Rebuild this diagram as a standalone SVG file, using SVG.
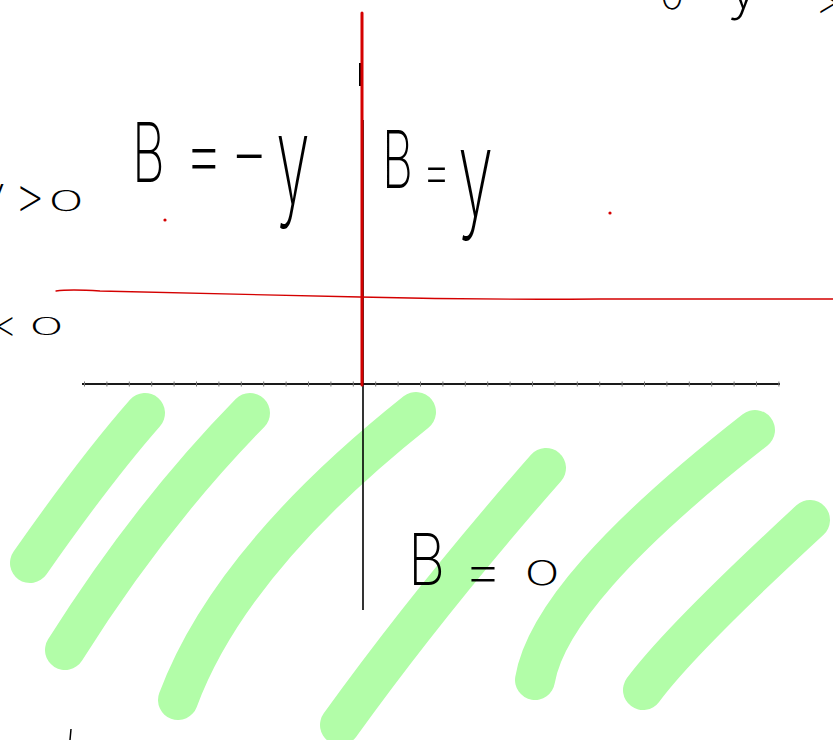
<svg xmlns="http://www.w3.org/2000/svg" width="833" height="740" viewBox="0 0 833 740">
<style>
.hand{font-family:Inter,"DejaVu Sans","Liberation Sans",sans-serif;font-weight:200;fill:#000}
.hl{fill:none;stroke:#b2fda8;stroke-width:40;stroke-linecap:round;stroke-linejoin:round}
.red{fill:none;stroke:#d40000;stroke-linecap:round}
</style>
<rect width="833" height="740" fill="#fff"/>
<g id="highlight">
<path class="hl" d="M145,413 Q95,470 30,563"/>
<path class="hl" d="M250,413 Q150,515 65,650"/>
<path class="hl" d="M416,412 Q230,560 178,700"/>
<path class="hl" d="M546,468 Q430,600 340,725"/>
<path class="hl" d="M755,430 Q550,590 535,680"/>
<path class="hl" d="M810,520 Q680,640 643,690"/>
</g>
<g id="connectors">
<line x1="82" y1="384" x2="780" y2="384" stroke="#1a1a1a" stroke-width="2"/>
<line x1="84" y1="384" x2="780" y2="384" stroke="#777" stroke-width="5" stroke-dasharray="1 21.4"/>
<line x1="363" y1="120" x2="363" y2="610" stroke="#000" stroke-width="1.6"/>
<line x1="360" y1="63" x2="360" y2="86" stroke="#000" stroke-width="2"/>
<path class="red" stroke-width="1.3" d="M56,291 Q70,289 100,291 L360,297 Q480,300 600,299 L833,299"/>
<line class="red" x1="362" y1="13" x2="362" y2="385" stroke-width="3"/>
<circle cx="165" cy="220" r="1.6" fill="#d40000"/>
<circle cx="610" cy="213" r="1.6" fill="#d40000"/>
<line x1="71" y1="729" x2="70" y2="740" stroke="#000" stroke-width="1.5"/>
</g>
<g id="label-top">
<text class="hand" font-size="40" x="660" y="9">0</text>
<text class="hand" font-size="60" x="727" y="8">y</text>
<text class="hand" font-size="40" x="815" y="14">&gt;</text>
</g>
<g id="label-y-pos">
<text class="hand" font-size="48" x="-21" y="210">y</text>
<text class="hand" font-size="48" x="14" y="212">&gt;</text>
<text class="hand" font-size="40" transform="translate(48,211) scale(1.5,0.7)">0</text>
</g>
<g id="label-y-neg">
<text class="hand" font-size="36" x="-6" y="337">&lt;</text>
<text class="hand" font-size="40" transform="translate(29,335) scale(1.45,0.6)">0</text>
</g>
<g id="label-b-neg-y">
<text class="hand" font-size="82" transform="translate(132,182) scale(0.62,1)">B</text>
<text class="hand" font-size="82" transform="translate(184,182) scale(0.75,1)">=</text>
<text class="hand" font-size="82" transform="translate(230,182) scale(1.05,1)">-</text>
<text class="hand" font-size="82" transform="translate(276,203) scale(0.75,1.5)">y</text>
</g>
<g id="label-b-y">
<text class="hand" font-size="80" transform="translate(382,188) scale(0.6,1)">B</text>
<text class="hand" font-size="60" transform="translate(422,192) scale(0.75,1)">=</text>
<text class="hand" font-size="80" transform="translate(458,216) scale(0.8,1.5)">y</text>
</g>
<g id="label-b-zero">
<text class="hand" font-size="72" transform="translate(408,585) scale(0.8,1)">B</text>
<text class="hand" font-size="62" transform="translate(463,592)">=</text>
<text class="hand" font-size="40" transform="translate(524,585) scale(1.5,0.85)">0</text>
</g>
</svg>
